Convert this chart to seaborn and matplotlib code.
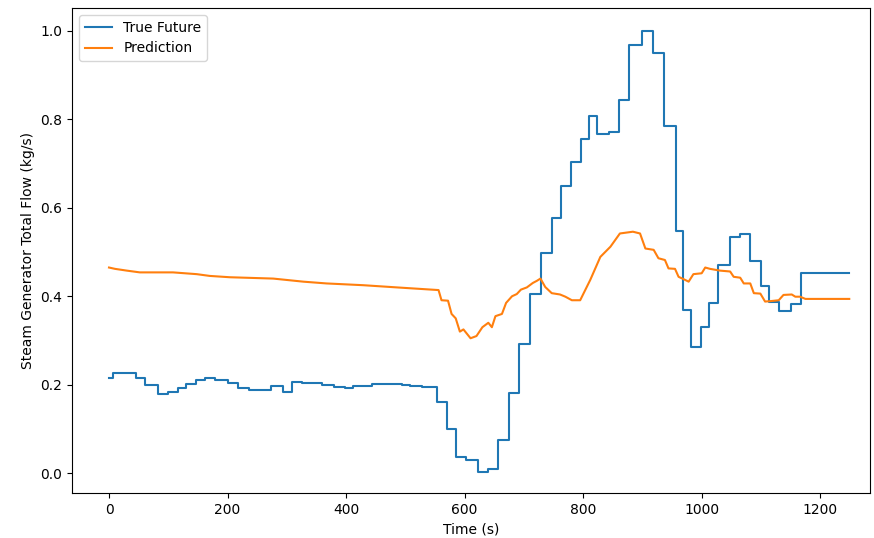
import matplotlib
matplotlib.use("Agg")
import matplotlib.pyplot as plt
import seaborn as sns
import pandas as pd

# True future (step changes: start time, value)
true_t = [0, 6, 46, 61, 83, 100, 117, 130, 147, 162, 179, 200, 218, 237, 274, 293, 308, 325, 359, 379,
          398, 412, 443, 494, 508, 528, 554, 570, 585, 602, 623, 640, 657, 675, 692, 710, 729, 747, 762, 779,
          796, 810, 824, 843, 861, 878, 899, 918, 937, 957, 969, 982, 999, 1013, 1028, 1048, 1064, 1082, 1100, 1114,
          1131, 1150, 1167, 1249]
true_v = [0.214, 0.227, 0.214, 0.199, 0.179, 0.183, 0.192, 0.201, 0.210, 0.214, 0.210, 0.203, 0.192, 0.188, 0.198,
          0.183, 0.205, 0.203, 0.199, 0.195, 0.193, 0.197, 0.201, 0.199, 0.197, 0.195, 0.161, 0.099, 0.037, 0.029,
          0.003, 0.009, 0.075, 0.182, 0.292, 0.405, 0.497, 0.578, 0.649, 0.704, 0.756, 0.808, 0.767, 0.771, 0.844,
          0.968, 1.0, 0.950, 0.786, 0.548, 0.369, 0.286, 0.331, 0.384, 0.471, 0.535, 0.541, 0.480, 0.423, 0.388,
          0.367, 0.382, 0.453, 0.453]

# Prediction
pred_t = [0, 10, 30, 52, 108, 148, 170, 204, 277, 328, 367, 429, 486, 556, 561, 572, 578, 585, 592, 598,
          604, 610, 620, 630, 640, 646, 652, 663, 670, 680, 688, 695, 705, 715, 722, 728, 736, 747, 761, 770,
          781, 795, 812, 829, 846, 862, 884, 896, 905, 919, 927, 938, 944, 955, 961, 969, 978, 986, 1000, 1006,
          1014, 1031, 1048, 1054, 1065, 1071, 1082, 1088, 1099, 1107, 1116, 1130, 1138, 1152, 1158, 1166, 1175, 1249]
pred_v = [0.465, 0.462, 0.458, 0.454, 0.454, 0.450, 0.446, 0.443, 0.440, 0.433, 0.429, 0.425, 0.420, 0.414, 0.391,
          0.390, 0.36, 0.35, 0.32, 0.325, 0.315, 0.305, 0.31, 0.33, 0.34, 0.33, 0.355, 0.36, 0.385, 0.40,
          0.405, 0.415, 0.42, 0.43, 0.435, 0.44, 0.421, 0.407, 0.404, 0.399, 0.391, 0.391, 0.437, 0.489, 0.512,
          0.542, 0.546, 0.542, 0.508, 0.505, 0.486, 0.482, 0.463, 0.462, 0.444, 0.439, 0.433, 0.450, 0.452, 0.465,
          0.462, 0.458, 0.456, 0.444, 0.442, 0.429, 0.429, 0.407, 0.406, 0.388, 0.389, 0.391, 0.403, 0.404, 0.399,
          0.399, 0.394, 0.394]

df_true = pd.DataFrame({"t": true_t, "v": true_v})
df_pred = pd.DataFrame({"t": pred_t, "v": pred_v})

fig = plt.figure(figsize=(8.74, 5.38), dpi=100)
ax = fig.add_axes([72 / 874, 1 - 493 / 538, (870 - 72) / 874, (493 - 8) / 538])

sns.lineplot(data=df_true, x="t", y="v", ax=ax, color="#1f77b4", drawstyle="steps-post",
             label="True Future", linewidth=1.5)
sns.lineplot(data=df_pred, x="t", y="v", ax=ax, color="#ff7f0e", label="Prediction", linewidth=1.5)

ax.set_xlim(-62.45, 1284)
ax.set_ylim(-0.045, 1.052)
ax.set_xticks([0, 200, 400, 600, 800, 1000, 1200])
ax.set_yticks([0.0, 0.2, 0.4, 0.6, 0.8, 1.0])
ax.set_xlabel("Time (s)")
ax.set_ylabel("Steam Generator Total Flow (kg/s)")
ax.legend(loc="upper left")

fig.savefig("out.png", dpi=100)
